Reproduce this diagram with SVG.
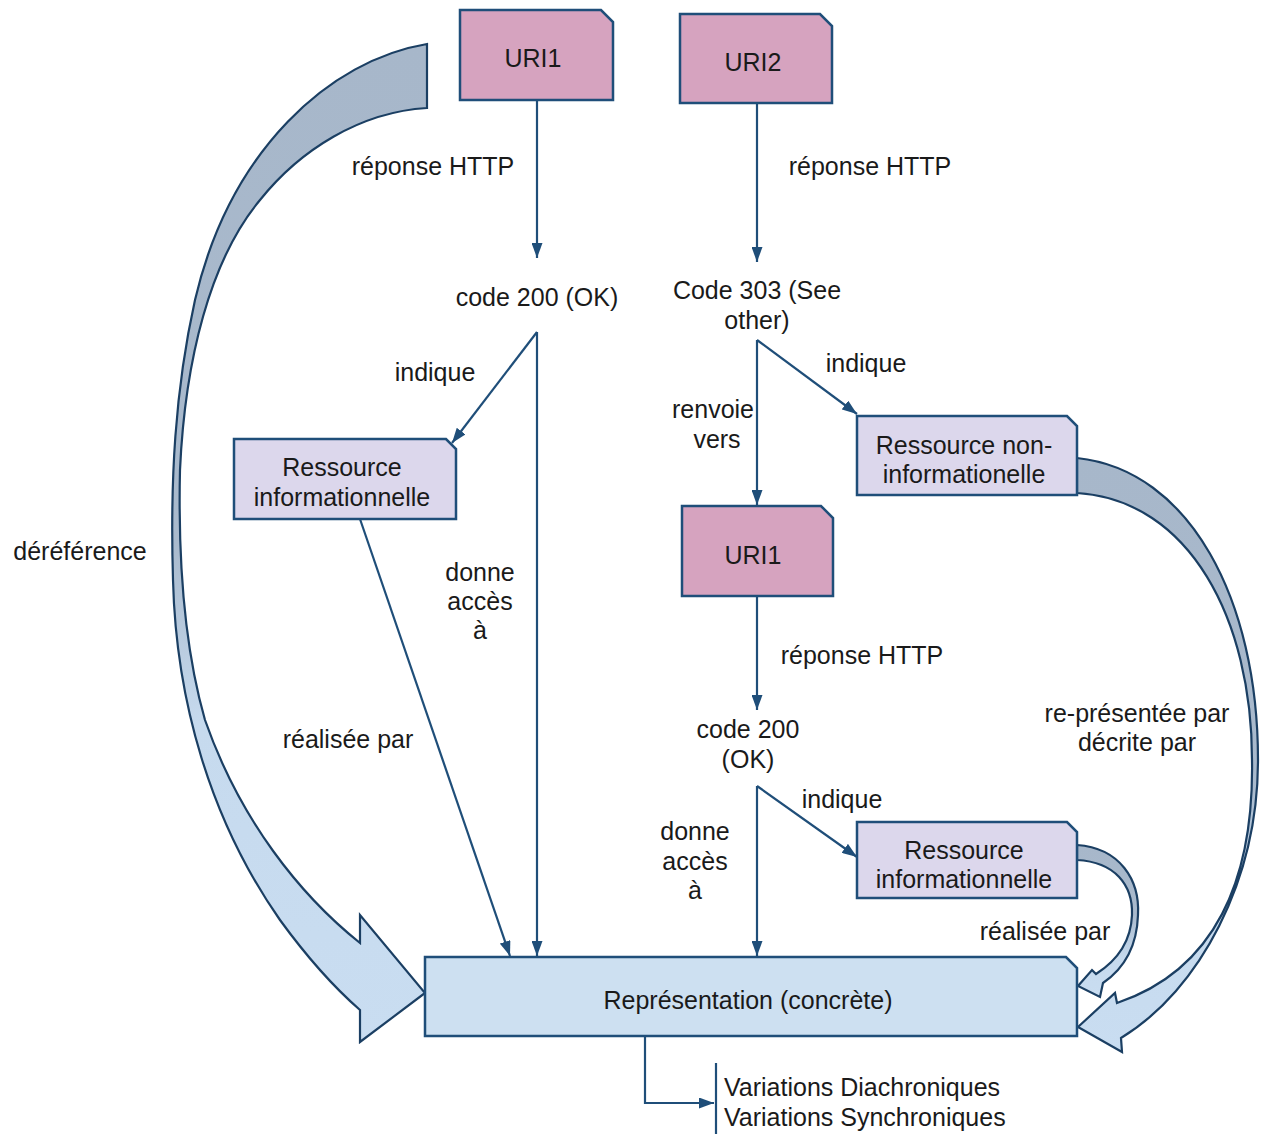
<svg xmlns="http://www.w3.org/2000/svg" width="1264" height="1135" viewBox="0 0 1264 1135">
<defs>
<style>
.t{font-family:"Liberation Sans",Arial,sans-serif;font-size:25px;fill:#1a1a1a;text-anchor:middle}
.ts{text-anchor:start}
.uri{fill:#d6a3bf;stroke:#1f4e79;stroke-width:2.5}
.res{fill:#dcd7ec;stroke:#1f4e79;stroke-width:2.5}
.rep{fill:#cde0f1;stroke:#1f4e79;stroke-width:2.5}
.c{fill:none;stroke:#1f4e79;stroke-width:2.2}
.big{stroke:#1b3f63;stroke-width:2.2;stroke-linejoin:miter}
</style>
<marker id="ah" viewBox="0 0 15 11" refX="15" refY="5.5" markerWidth="15" markerHeight="11" markerUnits="userSpaceOnUse" orient="auto">
<path d="M0,0 L15,5.5 L0,11 Z" fill="#1f4e79"/>
</marker>
<linearGradient id="gL" x1="0" y1="0" x2="0" y2="1">
<stop offset="0" stop-color="#a7b7ca"/>
<stop offset="0.5" stop-color="#a9bacd"/>
<stop offset="0.68" stop-color="#c6daee"/>
<stop offset="1" stop-color="#c9ddf1"/>
</linearGradient>
<linearGradient id="gR" x1="0" y1="0" x2="0" y2="1">
<stop offset="0" stop-color="#a7b7ca"/>
<stop offset="0.55" stop-color="#a9bacd"/>
<stop offset="0.75" stop-color="#c6daee"/>
<stop offset="1" stop-color="#c9ddf1"/>
</linearGradient>
<linearGradient id="gS" x1="0" y1="0" x2="0" y2="1">
<stop offset="0" stop-color="#a7b7ca"/>
<stop offset="0.45" stop-color="#a9bacd"/>
<stop offset="0.75" stop-color="#c6daee"/>
<stop offset="1" stop-color="#c9ddf1"/>
</linearGradient>
</defs>
<rect width="1264" height="1135" fill="#ffffff"/>

<g id="connectors">
<path class="c" d="M537,100 V258" marker-end="url(#ah)"/>
<path class="c" d="M757,103 V262" marker-end="url(#ah)"/>
<path class="c" d="M537,332 L452,443" marker-end="url(#ah)"/>
<path class="c" d="M537,332 V956" marker-end="url(#ah)"/>
<path class="c" d="M360,519 L510,956" marker-end="url(#ah)"/>
<path class="c" d="M757,340 V505" marker-end="url(#ah)"/>
<path class="c" d="M757,340 L857,414" marker-end="url(#ah)"/>
<path class="c" d="M757,596 V710" marker-end="url(#ah)"/>
<path class="c" d="M757,786 V956" marker-end="url(#ah)"/>
<path class="c" d="M757,786 L857,857" marker-end="url(#ah)"/>
<path class="c" d="M645,1036 V1103 H714" marker-end="url(#ah)"/>
<path class="c" d="M716,1063 V1134"/>
<path id="arrow-dereference" class="big" fill="url(#gL)" d="M427,44 C330,60 230,150 195,300 C175,390 170,480 173,580 C176,700 210,820 280,920 Q320,975 360,1010 L360,1042 L425,993 L360,915 L360,943 C300,895 240,820 205,720 C185,650 178,560 180,470 C185,360 210,260 260,200 C300,150 360,112 427,108 Z"/>
<path id="arrow-represented" class="big" fill="url(#gR)" d="M1077,458 C1190,470 1258,600 1258,760 C1258,880 1200,990 1121,1038 L1122,1052 L1078,1027 L1115,993 L1117,1003 C1215,970 1254,880 1252,760 C1252,620 1190,500 1077,493 Z"/>
<path id="arrow-realised" class="big" fill="url(#gS)" d="M1077,845 C1120,848 1140,880 1138,915 C1137,945 1125,968 1103,983 L1100,997 L1078,986 L1092,970 L1096,974 C1118,960 1131,940 1132,915 C1133,885 1115,862 1077,860 Z"/>
</g>

<g id="uri1-top">
<path class="uri" d="M460,10 H601 L613,22 V100 H460 Z"/>
<text class="t" x="533" y="67">URI1</text>
</g>
<g id="uri2">
<path class="uri" d="M680,14 H820 L832,26 V103 H680 Z"/>
<text class="t" x="753" y="71">URI2</text>
</g>
<g id="res-info-left">
<path class="res" d="M234,439 H446 L456,449 V519 H234 Z"/>
<text class="t" x="342" y="476">Ressource</text>
<text class="t" x="342" y="506">informationnelle</text>
</g>
<g id="res-non-info">
<path class="res" d="M857,416 H1067 L1077,426 V495 H857 Z"/>
<text class="t" x="964" y="454">Ressource non-</text>
<text class="t" x="964" y="483">informationelle</text>
</g>
<g id="uri1-bottom">
<path class="uri" d="M682,506 H821 L833,518 V596 H682 Z"/>
<text class="t" x="753" y="564">URI1</text>
</g>
<g id="res-info-right">
<path class="res" d="M857,822 H1067 L1077,832 V898 H857 Z"/>
<text class="t" x="964" y="859">Ressource</text>
<text class="t" x="964" y="888">informationnelle</text>
</g>
<g id="representation">
<path class="rep" d="M425,957 H1066 L1077,968 V1036 H425 Z"/>
<text class="t" x="748" y="1009">Représentation (concrète)</text>
</g>

<g id="labels">
<text class="t" x="433" y="175">réponse HTTP</text>
<text class="t" x="870" y="175">réponse HTTP</text>
<text class="t" x="537" y="306">code 200 (OK)</text>
<text class="t" x="757" y="299">Code 303 (See</text>
<text class="t" x="757" y="329">other)</text>
<text class="t" x="435" y="381">indique</text>
<text class="t" x="866" y="372">indique</text>
<text class="t" x="713" y="418">renvoie</text>
<text class="t" x="717" y="448">vers</text>
<text class="t" x="80" y="560">déréférence</text>
<text class="t" x="480" y="581">donne</text>
<text class="t" x="480" y="610">accès</text>
<text class="t" x="480" y="639">à</text>
<text class="t" x="862" y="664">réponse HTTP</text>
<text class="t" x="348" y="748">réalisée par</text>
<text class="t" x="1137" y="722">re-présentée par</text>
<text class="t" x="1137" y="751">décrite par</text>
<text class="t" x="748" y="738">code 200</text>
<text class="t" x="748" y="768">(OK)</text>
<text class="t" x="842" y="808">indique</text>
<text class="t" x="695" y="840">donne</text>
<text class="t" x="695" y="870">accès</text>
<text class="t" x="695" y="899">à</text>
<text class="t" x="1045" y="940">réalisée par</text>
<text class="t ts" x="724" y="1096">Variations Diachroniques</text>
<text class="t ts" x="724" y="1126">Variations Synchroniques</text>
</g>
</svg>
